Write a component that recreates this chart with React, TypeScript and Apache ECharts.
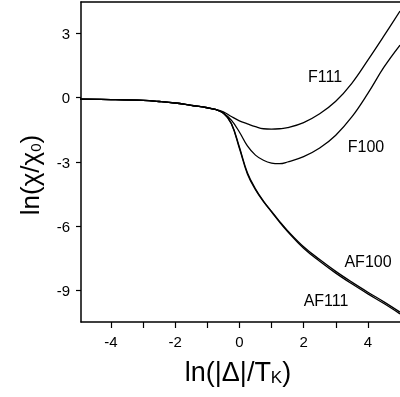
import React, { useEffect, useRef } from "react";
import * as echarts from "echarts";

// shared part of all four curves (they coincide for small |Δ|)
const xCommon = [-5, -4, -3, -2.5, -2, -1.5, -1, -0.75];
const yCommon = [-0.07, -0.09, -0.13, -0.18, -0.25, -0.36, -0.47, -0.55];

// ferromagnetic branches
const xF = [-0.5, -0.25, 0, 0.25, 0.5, 0.75, 1, 1.25, 1.5, 2, 2.5, 3, 3.5, 4, 4.5, 5];
const yF111 = [-0.66, -0.88, -1.08, -1.22, -1.35, -1.45, -1.47, -1.45, -1.4, -1.16, -0.75, -0.17, 0.67, 1.75, 2.88, 4.04];
const yF100 = [-0.72, -1.05, -1.6, -2.25, -2.68, -2.92, -3.05, -3.08, -3.0, -2.75, -2.35, -1.75, -0.9, 0.2, 1.42, 2.45];

// antiferromagnetic branches
const xAF = [-0.5, -0.25, 0, 0.25, 0.5, 0.75, 1, 1.25, 1.5, 2, 2.5, 3, 3.5, 4, 4.5, 5];
const yAF100 = [-0.72, -1.2, -2.3, -3.5, -4.25, -4.82, -5.3, -5.77, -6.2, -6.95, -7.55, -8.1, -8.6, -9.07, -9.52, -10.0];
const yAF111 = [-0.72, -1.22, -2.36, -3.56, -4.29, -4.85, -5.32, -5.8, -6.24, -7.02, -7.63, -8.18, -8.68, -9.15, -9.6, -10.08];

const seriesNames = ["F111", "F100", "AF100", "AF111"];

const xTicks = [-4, -3, -2, -1, 0, 1, 2, 3, 4];
const xTickLabels = [-4, -2, 0, 2, 4];
const yTicks = [3, 0, -3, -6, -9];

const FONT = "'Liberation Sans', Arial, Helvetica, sans-serif";

function build(xs: number[], ys: number[]) {
  const pts: number[][] = [];
  xCommon.forEach((x, i) => pts.push([x, yCommon[i]]));
  xs.forEach((x, i) => pts.push([x, ys[i]]));
  return pts;
}

export default function App() {
  const ref = useRef<HTMLDivElement>(null);
  useEffect(() => {
    if (!ref.current) return;
    const chart = echarts.init(ref.current, null, { renderer: "svg" });
    const lineStyle = { color: "#000", width: 1.3 };
    const mk = (name: string, data: number[][]) => ({
      name,
      type: "line",
      data,
      showSymbol: false,
      symbol: "none",
      smooth: 0.4,
      lineStyle,
      silent: true,
    });
    const axisLineStyle = { color: "#000", width: 1.5 };
    const labelStyle = (x: number, y: number, text: string) => ({
      type: "text",
      x,
      y,
      style: { text, font: `16px ${FONT}`, fill: "#000", align: "center", verticalAlign: "middle" },
    });
    chart.setOption({
      animation: false,
      grid: { left: 81, top: 2, width: 319, height: 320 },
      xAxis: [
        {
          type: "value",
          min: -4.93,
          max: 5,
          axisLine: { show: true, onZero: false, lineStyle: axisLineStyle },
          axisTick: { show: true, inside: false, length: 6, customValues: xTicks, lineStyle: { color: "#000", width: 1.2 } },
          axisLabel: { customValues: xTickLabels, fontSize: 15, color: "#000", margin: 12, fontFamily: FONT },
          splitLine: { show: false },
        },
        {
          type: "value",
          position: "top",
          min: -4.93,
          max: 5,
          axisLine: { show: true, onZero: false, lineStyle: axisLineStyle },
          axisTick: { show: false },
          axisLabel: { show: false },
          splitLine: { show: false },
        },
      ],
      yAxis: {
        type: "value",
        min: -10.46,
        max: 4.46,
        axisLine: { show: true, onZero: false, lineStyle: axisLineStyle },
        axisTick: { show: true, inside: false, length: 5, customValues: yTicks, lineStyle: { color: "#000", width: 1.2 } },
        axisLabel: { customValues: yTicks, fontSize: 15, color: "#000", margin: 11, fontFamily: FONT },
        splitLine: { show: false },
      },
      series: [
        mk(seriesNames[0], build(xF, yF111)),
        mk(seriesNames[1], build(xF, yF100)),
        mk(seriesNames[2], build(xAF, yAF100)),
        mk(seriesNames[3], build(xAF, yAF111)),
      ],
      graphic: [
        labelStyle(325, 76, seriesNames[0]),
        labelStyle(366, 146, seriesNames[1]),
        labelStyle(368, 261, seriesNames[2]),
        labelStyle(326, 300, seriesNames[3]),
        {
          type: "text",
          x: 238,
          y: 372,
          style: {
            text: "ln(|Δ|/T{sub|K})",
            font: `27px ${FONT}`,
            fill: "#000",
            align: "center",
            verticalAlign: "middle",
            rich: {
              sub: { fontSize: 17, fontFamily: FONT, fill: "#000", verticalAlign: "bottom" },
            },
          },
        },
        {
          type: "text",
          x: 30,
          y: 175,
          rotation: Math.PI / 2,
          style: {
            text: "ln(χ/χ{sub|0})",
            font: `26px ${FONT}`,
            fill: "#000",
            align: "center",
            verticalAlign: "middle",
            rich: {
              sub: { fontSize: 15, fontFamily: FONT, fill: "#000", verticalAlign: "bottom" },
            },
          },
        },
      ],
    });
    return () => chart.dispose();
  }, []);
  return <div ref={ref} style={{ position: "fixed", left: 0, top: 0, width: 400, height: 397 }} />;
}
